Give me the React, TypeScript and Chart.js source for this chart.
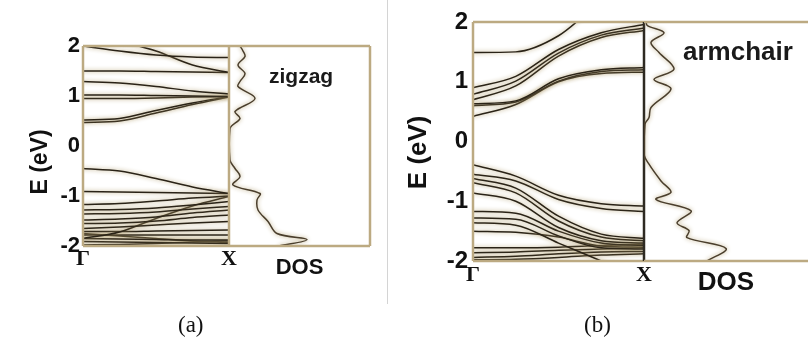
import React, { useEffect, useRef } from 'react';
import { Chart, registerables } from 'chart.js';

Chart.register(...registerables);

// k-path sample points (Γ -> X) and labels
const kPoints = [0, 0.25, 0.5, 0.75, 1];
const kLabels = ['Γ', 'X'];
const energyTicks = [-2, -1, 0, 1, 2];

// ---------- (a) zigzag band energies (eV) at kPoints ----------
const zzC1 = [2.0, 1.9, 1.82, 1.78, 1.77];
const zzC2 = [2.3, 2.1, 1.9, 1.62, 1.47];
const zzC3 = [1.5, 1.5, 1.49, 1.48, 1.47];
const zzC4 = [1.29, 1.26, 1.19, 1.1, 1.04];
const zzC5 = [1.02, 1.02, 1.01, 1.0, 0.99];
const zzC6 = [0.95, 0.95, 0.96, 0.98, 0.99];
const zzC7 = [0.52, 0.55, 0.71, 0.86, 0.99];
const zzC8 = [0.47, 0.5, 0.66, 0.83, 0.98];
const zzV1 = [-0.45, -0.5, -0.65, -0.82, -0.95];
const zzV2 = [-0.91, -0.92, -0.93, -0.94, -0.95];
const zzV3 = [-1.17, -1.15, -1.1, -1.04, -1.0];
const zzV4 = [-1.28, -1.27, -1.24, -1.18, -1.11];
const zzV5 = [-1.36, -1.35, -1.32, -1.26, -1.21];
const zzV6 = [-1.48, -1.46, -1.42, -1.34, -1.28];
const zzV7 = [-1.55, -1.54, -1.5, -1.43, -1.38];
const zzV8 = [-1.65, -1.62, -1.58, -1.54, -1.51];
const zzV9 = [-1.85, -1.72, -1.45, -1.2, -1.01];
const zzV10 = [-1.71, -1.71, -1.7, -1.69, -1.68];
const zzV11 = [-1.78, -1.78, -1.78, -1.78, -1.78];
const zzV12 = [-1.85, -1.86, -1.87, -1.88, -1.88];
const zzV13 = [-1.91, -1.92, -1.93, -1.94, -1.95];
const zzV14 = [-1.98, -1.97, -1.95, -1.92, -1.9];
const zzV15 = [-1.75, -1.8, -1.85, -1.9, -1.93];
const zigzagBands = [zzC1, zzC2, zzC3, zzC4, zzC5, zzC6, zzC7, zzC8,
  zzV1, zzV2, zzV3, zzV4, zzV5, zzV6, zzV7, zzV8, zzV9, zzV10, zzV11, zzV12, zzV13, zzV14, zzV15];

// (a) DOS curve: energy and density (arb. units)
const zzDosE = [2.0, 1.9, 1.79, 1.62, 1.45, 1.29, 1.19, 0.95, 0.69, 0.55, 0.35, -0.28, -0.45, -0.61, -0.78, -0.95, -1.08, -1.28, -1.51, -1.75, -1.87, -2.0];
const zzDosV = [1.1, 1.4, 1.6, 0.9, 1.6, 1.1, 0.9, 2.6, 0.6, 1.1, 0.1, 0.1, 0.6, 1.1, 0.4, 3.1, 2.8, 2.9, 3.9, 4.8, 7.8, 5.0];

// ---------- (b) armchair band energies (eV) at kPoints ----------
const acC1 = [1.49, 1.5, 1.77, 2.35, 2.8];
const acC2 = [0.9, 1.09, 1.54, 1.82, 1.96];
const acC3 = [0.79, 1.01, 1.48, 1.78, 1.9];
const acC4 = [0.7, 0.93, 1.43, 1.74, 1.86];
const acC5 = [0.63, 0.68, 1.05, 1.2, 1.24];
const acC6 = [0.6, 0.66, 1.01, 1.17, 1.2];
const acC7 = [0.42, 0.62, 1.0, 1.14, 1.16];
const acV1 = [-0.39, -0.58, -0.9, -1.04, -1.08];
const acV2 = [-0.55, -0.66, -0.97, -1.12, -1.17];
const acV3 = [-0.62, -0.78, -1.25, -1.55, -1.62];
const acV4 = [-0.69, -0.86, -1.33, -1.6, -1.66];
const acV5 = [-0.86, -1.0, -1.44, -1.66, -1.7];
const acV6 = [-1.17, -1.2, -1.5, -1.7, -1.74];
const acV7 = [-1.28, -1.3, -1.58, -1.78, -1.8];
const acV8 = [-1.36, -1.4, -1.7, -2.0, -2.3];
const acV9 = [-1.5, -1.52, -1.6, -1.75, -1.77];
const acV10 = [-1.78, -1.78, -1.77, -1.74, -1.72];
const acV11 = [-1.86, -1.85, -1.82, -1.8, -1.78];
const acV12 = [-1.94, -1.92, -1.88, -1.85, -1.84];
const acV13 = [-1.98, -1.97, -1.94, -1.9, -1.88];
const armchairBands = [acC1, acC2, acC3, acC4, acC5, acC6, acC7,
  acV1, acV2, acV3, acV4, acV5, acV6, acV7, acV8, acV9, acV10, acV11, acV12, acV13];

// (b) DOS curve
const acDosE = [2.0, 1.94, 1.82, 1.66, 1.49, 1.21, 1.04, 0.88, 0.57, 0.4, 0.29, -0.21, -0.38, -0.66, -0.85, -0.97, -1.16, -1.36, -1.49, -1.61, -1.79, -2.0];
const acDosV = [0.2, 0.34, 2.0, 0.7, 1.5, 3.0, 1.0, 2.7, 0.7, 0.5, 0.1, 0.0, 0.5, 1.7, 2.7, 1.2, 4.7, 3.3, 4.5, 4.3, 8.2, 6.3];

const W = 808;
const H = 347;
const BAND_COLOR = '#2a2317';
const DOS_COLOR = '#4a3e2c';
const FRAME = '#bcaa82';
const NB = '\u00a0';

const haloPlugin = {
  id: 'halo',
  beforeDatasetsDraw(chart: any) {
    const c = chart.ctx;
    c.save();
    c.shadowColor = 'rgba(175,155,105,0.95)';
    c.shadowBlur = 4;
  },
  afterDatasetsDraw(chart: any) {
    chart.ctx.restore();
  },
};

function framePlugin(sides: { t?: string; b?: string; l?: string; r?: string }, width: number) {
  return {
    id: 'frame',
    afterDatasetsDraw(chart: any) {
      const { ctx, chartArea: a } = chart;
      ctx.save();
      ctx.lineWidth = width;
      const seg = (x1: number, y1: number, x2: number, y2: number, c: string) => {
        ctx.strokeStyle = c;
        ctx.beginPath();
        ctx.moveTo(x1, y1);
        ctx.lineTo(x2, y2);
        ctx.stroke();
      };
      if (sides.t) seg(a.left, a.top, a.right, a.top, sides.t);
      if (sides.b) seg(a.left, a.bottom, a.right, a.bottom, sides.b);
      if (sides.l) seg(a.left, a.top, a.left, a.bottom, sides.l);
      if (sides.r) seg(a.right, a.top, a.right, a.bottom, sides.r);
      ctx.restore();
    },
  };
}

type BandOpts = {
  padding: { left: number; right: number; top: number; bottom: number };
  yAxisW: number;
  xAxisH: number;
  tickFont: number;
  tickPad: number;
  kFont: number;
  kPad: number;
  titleFont: number;
  titlePad: number;
  titleText: string;
  frame: { t?: string; b?: string; l?: string; r?: string };
};

function bandConfig(bands: number[][], o: BandOpts): any {
  return {
    type: 'line',
    data: {
      datasets: bands.map((b) => ({
        data: b.map((e, i) => ({ x: kPoints[i], y: e })),
        borderColor: BAND_COLOR,
        borderWidth: 1.5,
        pointRadius: 0,
        cubicInterpolationMode: 'monotone',
        fill: false,
      })),
    },
    options: {
      animation: false,
      responsive: false,
      events: [],
      layout: { padding: o.padding },
      plugins: { legend: { display: false }, tooltip: { enabled: false }, title: { display: false } },
      scales: {
        x: {
          type: 'linear',
          min: 0,
          max: 1,
          grid: { display: false, drawTicks: false },
          border: { display: false },
          afterBuildTicks: (s: any) => {
            s.ticks = [{ value: 0 }, { value: 1 }];
          },
          ticks: {
            autoSkip: false,
            maxRotation: 0,
            padding: o.kPad,
            color: '#111',
            font: { family: '"Liberation Serif", serif', size: o.kFont, weight: 'bold' },
            callback: (_v: any, i: number) => kLabels[i],
          },
          afterFit: (s: any) => {
            s.height = o.xAxisH;
          },
        },
        y: {
          type: 'linear',
          min: -2,
          max: 2,
          grid: { display: false, drawTicks: false },
          border: { display: false },
          afterBuildTicks: (s: any) => {
            s.ticks = energyTicks.map((v) => ({ value: v }));
          },
          ticks: {
            padding: o.tickPad,
            color: '#111',
            font: { family: '"Liberation Sans", Arial, sans-serif', size: o.tickFont, weight: 'bold' },
            callback: (v: any) => String(v),
          },
          title: {
            display: true,
            text: o.titleText,
            color: '#111',
            font: { family: '"Liberation Sans", Arial, sans-serif', size: o.titleFont, weight: 'bold' },
            padding: { top: o.titlePad, bottom: 0 },
          },
          afterFit: (s: any) => {
            s.width = o.yAxisW;
          },
        },
      },
    },
    plugins: [haloPlugin, framePlugin(o.frame, 2.5)],
  };
}

type DosOpts = {
  padding: { left: number; right: number; top: number; bottom: number };
  xAxisH: number;
  dosMax: number;
  titleFont: number;
  titlePadB: number;
  frame: { t?: string; b?: string; l?: string; r?: string };
};

function dosConfig(es: number[], vs: number[], o: DosOpts): any {
  return {
    type: 'line',
    data: {
      datasets: [
        {
          data: es.map((e, i) => ({ x: vs[i], y: e })),
          borderColor: DOS_COLOR,
          borderWidth: 1.5,
          pointRadius: 0,
          tension: 0.35,
          fill: false,
        },
      ],
    },
    options: {
      animation: false,
      responsive: false,
      events: [],
      layout: { padding: o.padding },
      plugins: { legend: { display: false }, tooltip: { enabled: false } },
      scales: {
        x: {
          type: 'linear',
          min: 0,
          max: o.dosMax,
          grid: { display: false, drawTicks: false },
          border: { display: false },
          ticks: { display: false },
          title: {
            display: true,
            text: 'DOS',
            color: '#111',
            font: { family: '"Liberation Sans", Arial, sans-serif', size: o.titleFont, weight: 'bold' },
            padding: { top: 0, bottom: o.titlePadB },
          },
          afterFit: (s: any) => {
            s.height = o.xAxisH;
          },
        },
        y: { type: 'linear', display: false, min: -2, max: 2 },
      },
    },
    plugins: [haloPlugin, framePlugin(o.frame, 2.5)],
  };
}

function ChartCanvas({ config }: { config: () => any }) {
  const ref = useRef<HTMLCanvasElement | null>(null);
  useEffect(() => {
    if (!ref.current) return;
    const chart = new Chart(ref.current, config());
    return () => chart.destroy();
  }, []);
  return (
    <canvas
      ref={ref}
      width={W}
      height={H}
      style={{ position: 'absolute', left: 0, top: 0, width: W, height: H }}
    />
  );
}

const textBase: React.CSSProperties = {
  position: 'absolute',
  whiteSpace: 'nowrap',
  lineHeight: 1,
  color: '#1a1a1a',
};

export default function App() {
  return (
    <div style={{ position: 'fixed', left: 0, top: 0, width: W, height: H, background: '#fff', overflow: 'hidden' }}>
      <div style={{ position: 'absolute', left: 387, top: 0, width: 1, height: 304, background: '#d4d4d4' }} />
      <ChartCanvas
        config={() =>
          bandConfig(zigzagBands, {
            padding: { left: 0, right: W - 229, top: 46, bottom: H - 246 - 30 },
            yAxisW: 83,
            xAxisH: 30,
            tickFont: 22,
            tickPad: 3,
            kFont: 22,
            kPad: 0,
            titleFont: 23,
            titlePad: 27,
            titleText: 'E (eV)' + NB.repeat(5),
            frame: { t: FRAME, b: FRAME, l: FRAME },
          })
        }
      />
      <ChartCanvas
        config={() =>
          dosConfig(zzDosE, zzDosV, {
            padding: { left: 229, right: W - 370, top: 46, bottom: H - 246 - 40 },
            xAxisH: 40,
            dosMax: 14.1,
            titleFont: 22,
            titlePadB: 5,
            frame: { t: FRAME, b: FRAME, l: FRAME, r: FRAME },
          })
        }
      />
      <ChartCanvas
        config={() =>
          bandConfig(armchairBands, {
            padding: { left: 400, right: W - 644, top: 22, bottom: H - 261 - 45 },
            yAxisW: 73,
            xAxisH: 45,
            tickFont: 24,
            tickPad: 5,
            kFont: 22,
            kPad: 1,
            titleFont: 26,
            titlePad: 3,
            titleText: 'E (eV)' + NB.repeat(3),
            frame: { t: FRAME, b: FRAME, l: FRAME, r: '#2e2a22' },
          })
        }
      />
      <ChartCanvas
        config={() =>
          dosConfig(acDosE, acDosV, {
            padding: { left: 644, right: 0, top: 22, bottom: H - 261 - 45 },
            xAxisH: 45,
            dosMax: 16.4,
            titleFont: 26,
            titlePadB: 8,
            frame: { t: FRAME, b: FRAME },
          })
        }
      />
      <div style={{ ...textBase, left: 269, top: 65, fontFamily: '"Liberation Sans", Arial, sans-serif', fontWeight: 'bold', fontSize: 21 }}>
        zigzag
      </div>
      <div style={{ ...textBase, left: 683, top: 38, fontFamily: '"Liberation Sans", Arial, sans-serif', fontWeight: 'bold', fontSize: 26 }}>
        armchair
      </div>
      <div style={{ ...textBase, left: 178, top: 313, fontFamily: '"Liberation Serif", serif', fontSize: 23, color: '#111' }}>
        (a)
      </div>
      <div style={{ ...textBase, left: 584, top: 313, fontFamily: '"Liberation Serif", serif', fontSize: 23, color: '#111' }}>
        (b)
      </div>
    </div>
  );
}
